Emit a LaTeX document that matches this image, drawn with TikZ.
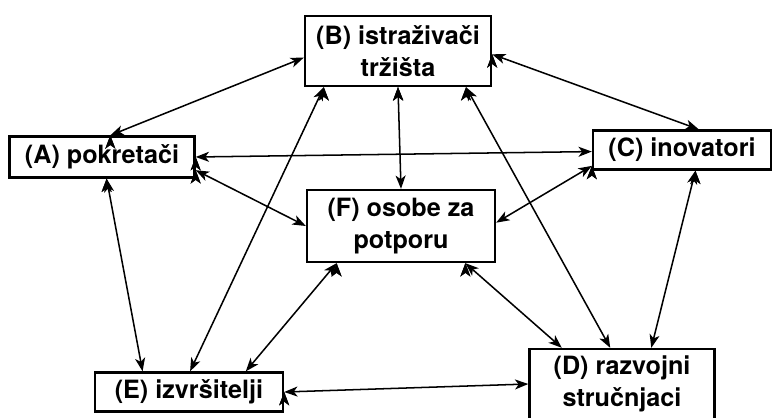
\documentclass[tikz,border=0pt]{standalone}
\usepackage{fontspec}
\setmainfont{TeX Gyre Heros}
\usetikzlibrary{arrows,arrows.meta,positioning}
\begin{document}
\begin{tikzpicture}[x=0.03cm, y=-0.03cm, >={Stealth[length=0.4cm,width=0.3cm,inset=0.11cm]}, line width=1.3pt, main node/.style={rectangle,draw,line width=2pt,align=center,inner sep=0pt,font=\bfseries\fontsize{21.5}{27}\selectfont}]%
\useasboundingbox (0,0) rectangle (773,418);
\begin{scope}[every node/.style={main node}]
\node[minimum width=5.58cm,minimum height=2.1cm] (B) at (398,51) {(B) istraživači\\tržišta};
\node[minimum width=5.55cm,minimum height=1.23cm] (A) at (102,157) {(A) pokretači};
\node[minimum width=5.34cm,minimum height=1.17cm] (C) at (682,150) {(C) inovatori};
\node[minimum width=5.64cm,minimum height=2.16cm] (F) at (401,226) {(F) osobe za\\potporu};
\node[minimum width=5.64cm,minimum height=1.17cm] (E) at (189,392) {(E) izvršitelji};
\node[minimum width=5.55cm,minimum height=2.1cm] (D) at (622,384) {(D) razvojni\\stručnjaci};

%\node[main node] (X) at (,) {};
\end{scope}
\begin{scope}[every edge/.style={draw=black,line width=1.3pt}]
\draw[<->] (A.69) edge (B.184);
\draw[<->] (A.0) edge (C.181);
\draw[<->] (A.-8) edge (F.180);
\draw[<->] (A.-78) edge (E.156);
\draw[<->] (B.206) edge (E.87);
\draw[<->] (B.south) edge (F.north);
\draw[<->] (B.-2) edge (C.51);
\draw[<->] (B.-28) edge (D.108);
\draw[<->] (C.190) edge (F.2);
\draw[<->] (C.-57) edge (D.51);
\draw[<->] (F.210) edge (E.20);
\draw[<->] (F.-30) edge (D.149);
\draw[<->] (E.0) edge (D.180);
%\draw[<->] (X) edge (Y);
\end{scope}
\end{tikzpicture}
\end{document}
